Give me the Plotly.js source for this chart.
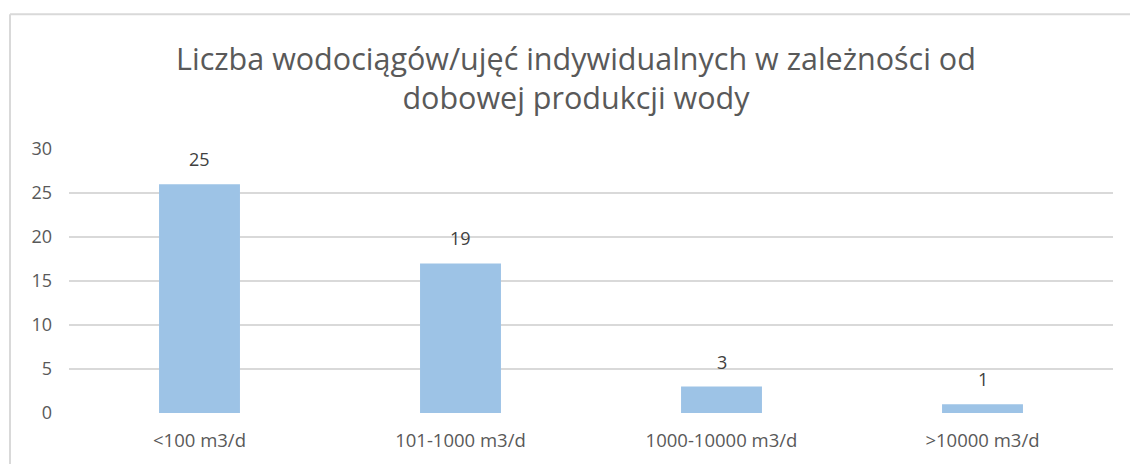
<!DOCTYPE html>
<html>
<head>
<meta charset="utf-8">
<script src="https://cdn.plot.ly/plotly-3.0.1.min.js"></script>
<style>html,body{margin:0;padding:0;background:#fff;}#chart{width:1130px;height:464px;}</style>
</head>
<body>
<div id="chart"></div>
<script>
const categories = ["<100 m3/d", "101-1000 m3/d", "1000-10000 m3/d", ">10000 m3/d"];
const barValues = [26, 17, 3, 1];
const labelTexts = ["25", "19", "3", "1"];
const yTicks = [0, 5, 10, 15, 20, 25, 30];
const titleText = "Liczba wodociągów/ujęć indywidualnych w zależności od<br>dobowej produkcji wody";

const FONT = "'Open Sans', sans-serif";
const trace = {
  type: "bar",
  x: categories,
  y: barValues,
  marker: {color: "#9DC3E6"},
  hoverinfo: "none"
};
const annotations = categories.map((c, i) => ({
  x: c, y: barValues[i], xref: "x", yref: "y",
  text: labelTexts[i], showarrow: false,
  yanchor: "bottom", yshift: 11,
  font: {family: FONT, size: 18, color: "#404040"}
}));
const layout = {
  width: 1130, height: 464,
  margin: {l: 69, r: 17, t: 149, b: 51},
  paper_bgcolor: "#ffffff", plot_bgcolor: "#ffffff",
  bargap: 0.69,
  showlegend: false,
  title: {
    text: titleText,
    x: 0.5097, xanchor: "center",
    y: 0.85, yanchor: "top",
    font: {family: FONT, size: 30.5, color: "#595959"}
  },
  xaxis: {
    type: "category",
    showgrid: false, zeroline: false, showline: false,
    ticks: "", ticklen: 0,
    ticklabelstandoff: 14,
    tickfont: {family: FONT, size: 18.5, color: "#595959"}
  },
  yaxis: {
    range: [0, 30], tickvals: yTicks, ticktext: yTicks.map(String),
    showgrid: true, gridcolor: "#D9D9D9", gridwidth: 1.5,
    zeroline: false, showline: false, ticks: "",
    ticklabelstandoff: 16,
    tickfont: {family: FONT, size: 18, color: "#595959"}
  },
  annotations: annotations,
  shapes: [
    {type: "line", xref: "paper", yref: "paper", x0: -0.0565, x1: 1.02, y0: 1.51, y1: 1.51, line: {color: "#D9D9D9", width: 2}},
    {type: "line", xref: "paper", yref: "paper", x0: -0.0565, x1: -0.0565, y0: 1.51, y1: -0.2, line: {color: "#D9D9D9", width: 2}}
  ]
};
Plotly.newPlot("chart", [trace], layout, {displayModeBar: false, staticPlot: true});
</script>
</body>
</html>
